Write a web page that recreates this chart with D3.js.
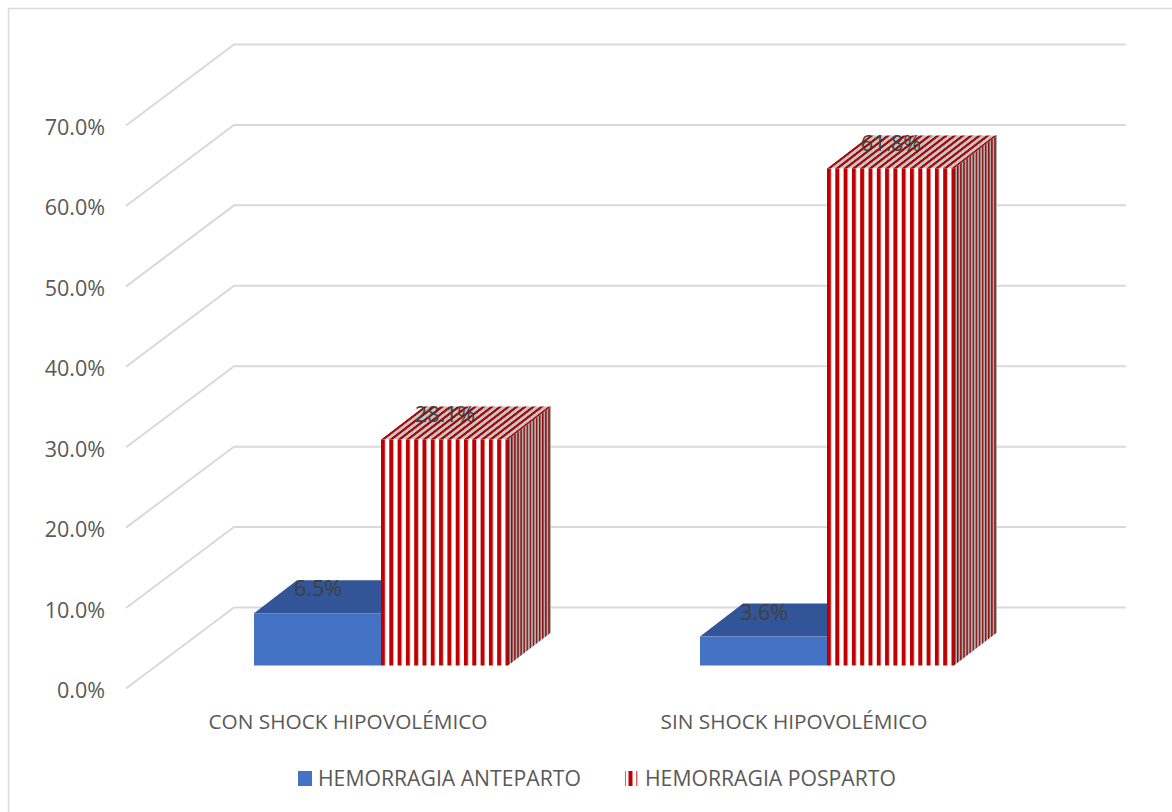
<!DOCTYPE html>
<html>
<head>
<meta charset="utf-8">
<script src="https://cdn.jsdelivr.net/npm/d3@7"></script>
<style>
  html, body { margin: 0; padding: 0; background: #fff; }
  svg { display: block; }
  text { font-family: "Open Sans", sans-serif; }
</style>
</head>
<body>
<svg id="chart" width="1172" height="812"></svg>
<script>
const categories = ["CON SHOCK HIPOVOLÉMICO", "SIN SHOCK HIPOVOLÉMICO"];
const seriesNames = ["HEMORRAGIA ANTEPARTO", "HEMORRAGIA POSPARTO"];
const anteparto = [6.5, 3.6];
const posparto = [28.1, 61.8];
const yTicks = [0, 10, 20, 30, 40, 50, 60, 70];

const svg = d3.select("#chart");
const defs = svg.append("defs");

// front plane of the box, the back wall is shifted by depth
const y = d3.scaleLinear().domain([0, 70]).range([688.5, 125.5]);
const x = d3.scaleBand().domain(categories).range([126, 1018]);
const depth = { dx: 108, dy: -81 };
const barDepth = { dx: 43, dy: -33 };
const barOffset = { dx: 32, dy: -23 };
const barWidth = 127;

const stripes = (id, period, colorA, colorB, widthA) => {
  const p = defs
    .append("pattern")
    .attr("id", id)
    .attr("patternUnits", "userSpaceOnUse")
    .attr("width", period)
    .attr("height", 8);
  p.append("rect").attr("width", period).attr("height", 8).attr("fill", colorB);
  p.append("rect").attr("width", widthA).attr("height", 8).attr("fill", colorA);
};

stripes("stripe-front", 8.3, "#c00000", "#fff", 4);
stripes("stripe-top", 8.3, "#a30808", "#c8c2c2", 3.6);
stripes("stripe-side", 3.1, "#8a1010", "#b0acac", 1.4);

// legend swatch: thin, thick, thin
const swatch = defs
  .append("pattern")
  .attr("id", "stripe-legend")
  .attr("patternUnits", "userSpaceOnUse")
  .attr("x", 625)
  .attr("width", 14)
  .attr("height", 15);
[[0, 1, "#e06060"], [3.5, 4, "#c00000"], [11, 1.5, "#e06060"]].forEach(([sx, sw, c]) => {
  swatch.append("rect").attr("x", sx).attr("width", sw).attr("height", 15).attr("fill", c);
});

// chart frame, runs off the right and bottom edges
svg.append("rect")
  .attr("x", 8.5)
  .attr("y", 8.5)
  .attr("width", 1200)
  .attr("height", 900)
  .attr("fill", "#fff")
  .attr("stroke", "#d9d9d9")
  .attr("stroke-width", 1.5);

// gridlines, floor edge up to the back wall and then across
svg.append("g")
  .selectAll("path")
  .data(yTicks)
  .join("path")
  .attr("fill", "none")
  .attr("stroke", "#d9d9d9")
  .attr("stroke-width", 2)
  .attr("d", (d) => {
    const x0 = x.range()[0];
    const x1 = x.range()[1];
    return `M${x0},${y(d)}L${x0 + depth.dx},${y(d) + depth.dy}L${x1 + depth.dx},${y(d) + depth.dy}`;
  });

svg.append("g")
  .selectAll("text")
  .data(yTicks)
  .join("text")
  .attr("x", 105)
  .attr("y", (d) => y(d) + 9.5)
  .attr("text-anchor", "end")
  .attr("font-size", 21.5)
  .attr("fill", "#595959")
  .text((d) => d3.format(".1f")(d) + "%");

const barFloor = y(0) + barOffset.dy;
const valueY = (v) => barFloor - (y(0) - y(v));

const drawBar = (left, value, front, top, side) => {
  const t = valueY(value);
  const r = left + barWidth;
  const g = svg.append("g");
  g.append("path")
    .attr("fill", side)
    .attr("d", `M${r},${t}L${r + barDepth.dx},${t + barDepth.dy}L${r + barDepth.dx},${barFloor + barDepth.dy}L${r},${barFloor}Z`);
  g.append("path")
    .attr("fill", top)
    .attr("d", `M${left},${t}L${left + barDepth.dx},${t + barDepth.dy}L${r + barDepth.dx},${t + barDepth.dy}L${r},${t}Z`);
  g.append("rect")
    .attr("x", left)
    .attr("y", t)
    .attr("width", barWidth)
    .attr("height", barFloor - t)
    .attr("fill", front);
};

const barLabel = (left, value) => {
  svg.append("text")
    .attr("x", left + barWidth / 2 + 0.5)
    .attr("y", valueY(value) - 17)
    .attr("text-anchor", "middle")
    .attr("font-size", 21.5)
    .attr("fill", "#404040")
    .text(d3.format(".1f")(value) + "%");
};

categories.forEach((c, i) => {
  const center = x(c) + x.bandwidth() / 2 + barOffset.dx;
  drawBar(center - barWidth, anteparto[i], "#4472c4", "#315597", "#2f5597");
  // stripes restart at each red bar
  const id = `red-${i}`;
  const t = valueY(posparto[i]);
  const transforms = {
    front: `translate(${center},0)`,
    top: `translate(${center},${t}) skewX(-52.5)`,
    side: `translate(${center + barWidth},${t}) skewY(-37.5)`,
  };
  Object.keys(transforms).forEach((k) => {
    defs.append("pattern")
      .attr("id", `${id}-${k}`)
      .attr("href", `#stripe-${k}`)
      .attr("patternTransform", transforms[k]);
  });
  drawBar(center, posparto[i], `url(#${id}-front)`, `url(#${id}-top)`, `url(#${id}-side)`);
  barLabel(center - barWidth, anteparto[i]);
  barLabel(center, posparto[i]);

  svg.append("text")
    .attr("x", center - 33)
    .attr("y", 729)
    .attr("text-anchor", "middle")
    .attr("font-size", 20.8)
    .attr("fill", "#595959")
    .text(c);
});

// legend
const legendX = [298, 625];
const legendFill = ["#4472c4", "url(#stripe-legend)"];
seriesNames.forEach((name, i) => {
  svg.append("rect")
    .attr("x", legendX[i])
    .attr("y", 771)
    .attr("width", 14)
    .attr("height", 15)
    .attr("fill", legendFill[i]);
  svg.append("text")
    .attr("x", legendX[i] + 20)
    .attr("y", 786)
    .attr("font-size", 21.2)
    .attr("fill", "#595959")
    .text(name);
});
</script>
</body>
</html>
